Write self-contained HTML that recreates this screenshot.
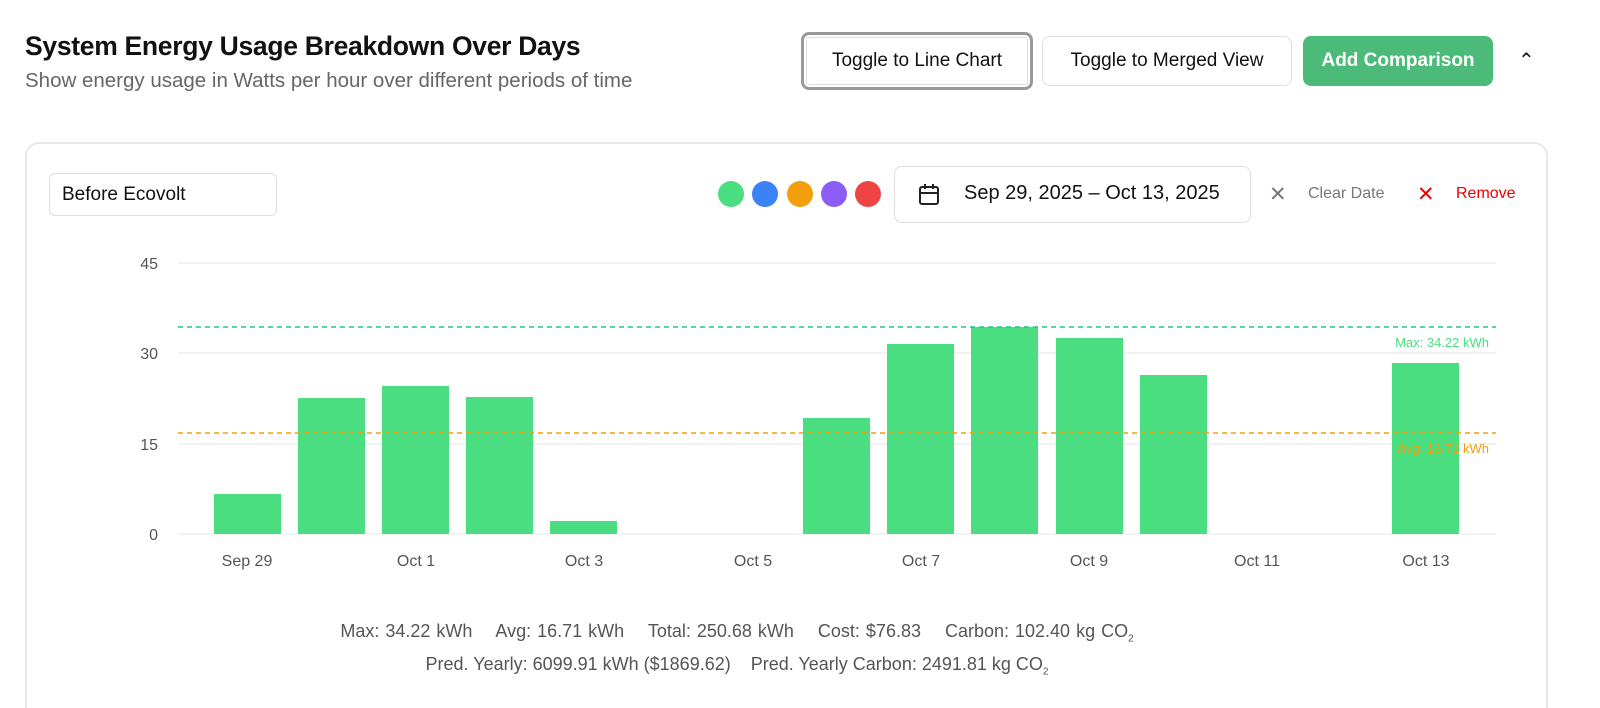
<!DOCTYPE html>
<html style="overflow:hidden;height:708px"><head><meta charset="utf-8"><style>
html,body{margin:0;width:1600px;height:708px;background:#fff;font-family:"Liberation Sans",sans-serif;position:relative;overflow:hidden}
.a{position:absolute;white-space:nowrap}
.btn{position:absolute;top:36px;height:50px;border:1px solid #ddd;border-radius:8px;background:#fff;font-size:19px;display:flex;align-items:center;justify-content:center;box-sizing:border-box;color:#111}
.dot{position:absolute;top:181px;width:26px;height:26px;border-radius:50%}
</style></head><body>
<div class="a" style="left:25px;top:31px;font-size:26.5px;font-weight:bold;color:#111;letter-spacing:-0.3px">System Energy Usage Breakdown Over Days</div>
<div class="a" style="left:25px;top:69px;font-size:20.5px;color:#666">Show energy usage in Watts per hour over different periods of time</div>
<div class="btn" style="left:801px;top:32px;width:232px;height:58px;border:3px solid #999;box-shadow:inset 0 0 0 2px #fff,inset 0 0 0 3px #ddd">Toggle to Line Chart</div>
<div class="btn" style="left:1042px;width:250px">Toggle to Merged View</div>
<div class="btn" style="left:1303px;width:190px;background:#4cbb7a;border-color:#4cbb7a;color:#fff;font-weight:bold">Add Comparison</div>
<div class="a" style="left:1518px;top:48px;font-size:20px;color:#111">&#8963;</div>
<div class="a" style="left:25px;top:142px;width:1523px;height:580px;border:2px solid #e8e8e8;border-bottom:none;border-radius:14px 14px 0 0;box-sizing:border-box"></div>
<div class="a" style="left:49px;top:173px;width:228px;height:43px;border:1px solid #ddd;border-radius:6px;box-sizing:border-box;font-size:19px;padding:10px 12px;color:#111">Before Ecovolt</div>
<div class="dot" style="left:718px;background:#4ade80"></div>
<div class="dot" style="left:752px;background:#3b82f6"></div>
<div class="dot" style="left:787px;background:#f59e0b"></div>
<div class="dot" style="left:821px;background:#8b5cf6"></div>
<div class="dot" style="left:855px;background:#ef4444"></div>
<div class="a" style="left:894px;top:166px;width:357px;height:57px;border:1px solid #ddd;border-radius:8px;box-sizing:border-box"></div>
<svg class="a" style="left:918px;top:183px" width="22" height="24" viewBox="0 0 22 24"><rect x="2" y="4" width="18" height="17" rx="2" fill="none" stroke="#222" stroke-width="2"/><line x1="2" y1="10" x2="20" y2="10" stroke="#222" stroke-width="2"/><line x1="7" y1="1" x2="7" y2="6" stroke="#222" stroke-width="2"/><line x1="15" y1="1" x2="15" y2="6" stroke="#222" stroke-width="2"/></svg>
<div class="a" style="left:964px;top:182px;font-size:20px;color:#111">Sep 29, 2025 – Oct 13, 2025</div>
<div class="a" style="left:1269px;top:182px;font-size:21px;color:#777">✕</div>
<div class="a" style="left:1308px;top:185px;font-size:16px;color:#777">Clear Date</div>
<div class="a" style="left:1417px;top:182px;font-size:21px;color:#e00">✕</div>
<div class="a" style="left:1456px;top:185px;font-size:16px;color:#e00">Remove</div>
<svg class="a" style="left:0;top:0" width="1600" height="708">
<g stroke="#eee" stroke-width="1.5"><line x1="178" y1="263" x2="1496" y2="263"/><line x1="178" y1="353" x2="1496" y2="353"/><line x1="178" y1="444" x2="1496" y2="444"/><line x1="178" y1="534" x2="1496" y2="534"/></g>
<g font-size="16" fill="#555" text-anchor="end" font-family="Liberation Sans"><text x="158" y="269">45</text><text x="158" y="359">30</text><text x="158" y="450">15</text><text x="158" y="540">0</text></g>
<g fill="#4ade80">
<rect x="214" y="494" width="67" height="40"/>
<rect x="298" y="398" width="67" height="136"/>
<rect x="382" y="386" width="67" height="148"/>
<rect x="466" y="397" width="67" height="137"/>
<rect x="550" y="521" width="67" height="13"/>
<rect x="803" y="418" width="67" height="116"/>
<rect x="887" y="344" width="67" height="190"/>
<rect x="971" y="327" width="67" height="207"/>
<rect x="1056" y="338" width="67" height="196"/>
<rect x="1140" y="375" width="67" height="159"/>
<rect x="1392" y="363" width="67" height="171"/>
</g>
<line x1="178" y1="327" x2="1496" y2="327" stroke="#22c58a" stroke-width="1.5" stroke-dasharray="5,4"/>
<line x1="178" y1="433" x2="1496" y2="433" stroke="#f59e0b" stroke-width="1.5" stroke-dasharray="5,4"/>
<text x="1489" y="347" font-size="13" fill="#4ade80" text-anchor="end" font-family="Liberation Sans">Max: 34.22 kWh</text>
<text x="1489" y="453" font-size="13" fill="#f59e0b" text-anchor="end" font-family="Liberation Sans">Avg: 16.71 kWh</text>
<g font-size="16" fill="#555" text-anchor="middle" font-family="Liberation Sans">
<text x="247" y="566">Sep 29</text><text x="416" y="566">Oct 1</text><text x="584" y="566">Oct 3</text><text x="753" y="566">Oct 5</text><text x="921" y="566">Oct 7</text><text x="1089" y="566">Oct 9</text><text x="1257" y="566">Oct 11</text><text x="1426" y="566">Oct 13</text>
</g>
</svg>
<div class="a" style="left:0;width:1474px;top:621px;text-align:center;font-size:18px;color:#555;word-spacing:1px">Max: 34.22 kWh &nbsp;&nbsp; Avg: 16.71 kWh &nbsp;&nbsp; Total: 250.68 kWh &nbsp;&nbsp; Cost: $76.83 &nbsp;&nbsp; Carbon: 102.40 kg CO<sub style="font-size:10px">2</sub></div>
<div class="a" style="left:0;width:1474px;top:654px;text-align:center;font-size:18px;color:#555">Pred. Yearly: 6099.91 kWh ($1869.62) &nbsp;&nbsp; Pred. Yearly Carbon: 2491.81 kg CO<sub style="font-size:10px">2</sub></div>
</body></html>
